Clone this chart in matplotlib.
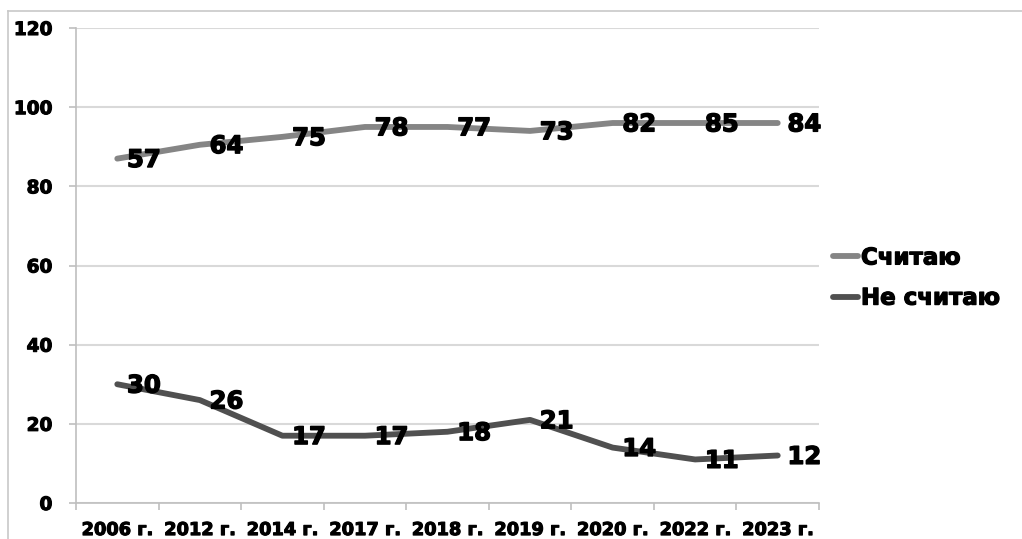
import matplotlib
matplotlib.use('Agg')
import matplotlib.pyplot as plt
import matplotlib.patheffects as pe
from matplotlib.lines import Line2D
from matplotlib.ticker import FixedLocator

# данные графика
years = ['2006 г.', '2012 г.', '2014 г.', '2017 г.', '2018 г.',
         '2019 г.', '2020 г.', '2022 г.', '2023 г.']
schitayu_y = [87, 90.5, 92.5, 95, 95, 94, 96, 96, 96]      # положение линии
schitayu_labels = [57, 64, 75, 78, 77, 73, 82, 85, 84]     # подписи значений
ne_schitayu = [30, 26, 17, 17, 18, 21, 14, 11, 12]
series_names = ['Считаю', 'Не считаю']
colors = ['#858585', '#505050']

plt.rcParams['font.family'] = ['DejaVu Sans']
plt.rcParams['font.weight'] = 'bold'

# утолщение шрифта, как в оригинале
heavy = [pe.withStroke(linewidth=1.0, foreground='black')]

W, H = 1022, 539
fig = plt.figure(figsize=(W / 100, H / 100), dpi=100)
ax = fig.add_axes([76 / W, 1 - 503 / H, (819 - 76) / W, (503 - 28) / H])

x = list(range(len(years)))
ax.plot(x, schitayu_y, color=colors[0], lw=4.2, solid_capstyle='round',
        solid_joinstyle='round', label=series_names[0])
ax.plot(x, ne_schitayu, color=colors[1], lw=4.2, solid_capstyle='round',
        solid_joinstyle='round', label=series_names[1])

# подписи данных справа от точек
for xi, yi, lab in zip(x, schitayu_y, schitayu_labels):
    ax.annotate(str(lab), (xi, yi), xytext=(7, -1), textcoords='offset points',
                ha='left', va='center', fontsize=17.5, fontweight='bold',
                path_effects=heavy)
for xi, yi in zip(x, ne_schitayu):
    ax.annotate(str(yi), (xi, yi), xytext=(7, -1), textcoords='offset points',
                ha='left', va='center', fontsize=17.5, fontweight='bold',
                path_effects=heavy)

ax.set_xlim(-0.5, len(years) - 0.5)
ax.set_ylim(0, 120)
ax.set_yticks(range(0, 121, 20))
ax.set_xticks(x)
ax.set_xticklabels(years)
ax.xaxis.set_minor_locator(FixedLocator([i - 0.5 for i in range(len(years) + 1)]))

ax.tick_params(axis='x', which='major', length=0, pad=13, labelsize=12.8)
ax.tick_params(axis='x', which='minor', length=5, color='#bfbfbf', width=1.2)
ax.tick_params(axis='y', length=5, color='#bfbfbf', width=1.2, pad=12, labelsize=13.3)
for t in ax.get_xticklabels() + ax.get_yticklabels():
    t.set_fontweight('bold')
    t.set_path_effects([pe.withStroke(linewidth=0.8, foreground='black')])

ax.grid(axis='y', color='#d9d9d9', lw=1.5)
ax.set_axisbelow(True)
for s in ['top', 'right']:
    ax.spines[s].set_visible(False)
for s in ['left', 'bottom']:
    ax.spines[s].set_color('#bfbfbf')
    ax.spines[s].set_linewidth(1.2)

leg = fig.legend(loc='center left', bbox_to_anchor=(833 / W, 1 - 278 / H),
                 frameon=False, fontsize=16.5, handlelength=1.1, handletextpad=0.12,
                 labelspacing=0.75, borderpad=0, borderaxespad=0)
for t in leg.get_texts():
    t.set_fontweight('bold')
    t.set_path_effects([pe.withStroke(linewidth=0.9, foreground='black')])

# рамка области диаграммы
fig.add_artist(Line2D([8 / W, 8 / W], [0, 1 - 11 / H], transform=fig.transFigure,
                      color='#c8c8c8', lw=1.2))
fig.add_artist(Line2D([8 / W, 1], [1 - 11 / H, 1 - 11 / H], transform=fig.transFigure,
                      color='#c8c8c8', lw=1.2))

fig.savefig('out.png', dpi=100)
